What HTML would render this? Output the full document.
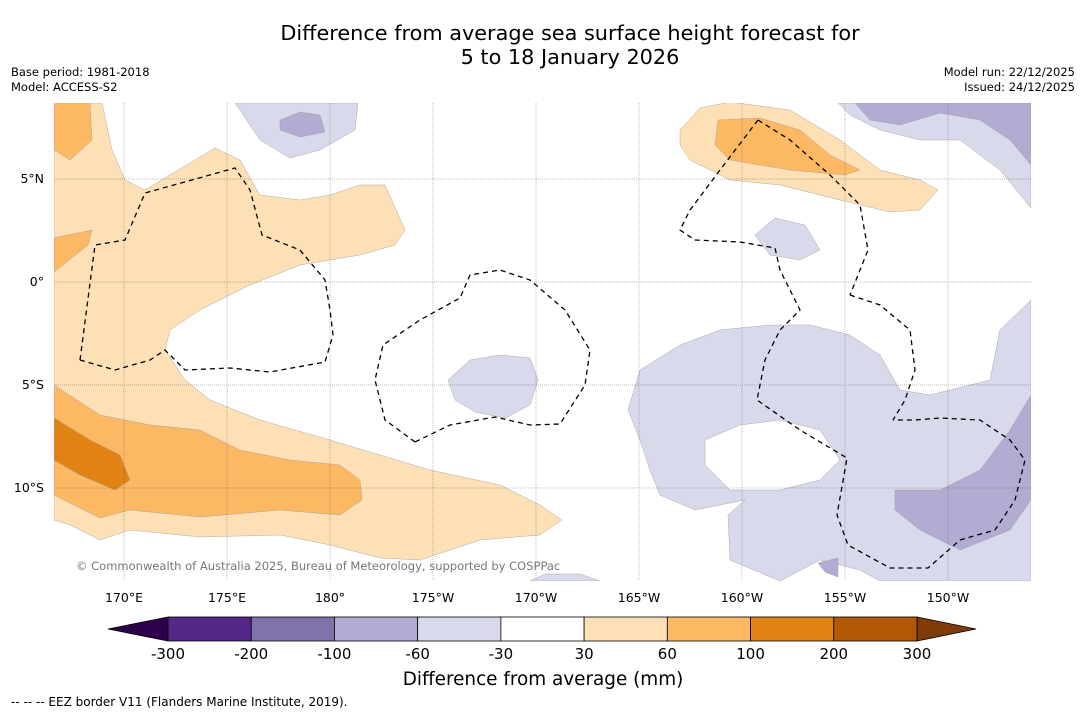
<!DOCTYPE html>
<html><head><meta charset="utf-8">
<style>
body{margin:0;background:#fff;font-family:"DejaVu Sans",sans-serif;}
#wrap{position:relative;width:1085px;height:713px;overflow:hidden;background:#fff}
.t{position:absolute;white-space:nowrap;color:#000}
</style></head><body>
<div id="wrap">
<div class="t" style="left:0;width:1140px;top:21px;text-align:center;font-size:20.8px;line-height:24px">Difference from average sea surface height forecast for<br>5 to 18 January 2026</div>
<div class="t" style="left:11px;top:65px;font-size:11.5px;line-height:15px">Base period: 1981-2018<br>Model: ACCESS-S2</div>
<div class="t" style="right:10px;top:65px;font-size:11.5px;line-height:15px;text-align:right">Model run: 22/12/2025<br>Issued: 24/12/2025</div>
<svg id="map" width="1085" height="713" style="position:absolute;left:0;top:0" font-family="DejaVu Sans">
<defs><clipPath id="mc"><rect x="54" y="103" width="977" height="478"/></clipPath></defs>
<g clip-path="url(#mc)" stroke="#999" stroke-width="0.4">
<rect x="54" y="103" width="977" height="478" fill="#fff" stroke="none"/>
<polygon fill="#fee0b6" points="54,103 102,103 112,150 125,180 145,190 215,148 240,160 260,195 300,200 330,195 360,185 385,185 405,230 395,245 360,255 300,265 250,285 200,310 170,330 165,350 185,380 210,400 260,420 330,440 430,470 500,485 540,505 562,520 540,535 480,540 420,560 380,558 330,545 280,535 200,537 130,530 100,540 70,525 54,520"/>
<polygon fill="#fdb863" points="54,103 90,103 92,140 70,160 54,150"/>
<polygon fill="#fdb863" points="54,238 92,230 88,245 54,272"/>
<polygon fill="#fdb863" points="54,385 100,415 150,425 200,430 240,450 290,460 340,465 360,480 362,500 340,515 280,510 200,517 130,510 100,518 54,495"/>
<polygon fill="#e08214" points="54,418 90,440 120,455 130,480 115,490 80,475 54,460"/>
<polygon fill="#fee0b6" points="680,130 700,108 730,102 790,110 840,140 880,170 920,180 938,190 920,210 890,212 840,200 780,185 730,180 690,160 680,145"/>
<polygon fill="#fdb863" points="718,120 760,118 800,130 830,155 860,170 845,175 790,170 730,160 715,145"/>
<polygon fill="#d8daeb" points="235,103 358,103 355,130 320,150 290,158 260,140"/>
<polygon fill="#b2abd2" points="280,120 300,112 320,115 325,132 300,137 280,130"/>
<polygon fill="#d8daeb" points="838,103 1031,103 1031,208 1000,170 960,140 920,140 880,130 850,115"/>
<polygon fill="#b2abd2" points="855,103 1031,103 1031,165 1010,140 980,120 940,113 900,125 870,120"/>
<polygon fill="#d8daeb" points="755,235 775,218 805,225 820,250 800,260 770,255"/>
<polygon fill="#d8daeb" points="448,380 470,360 500,355 530,358 538,380 530,405 505,418 475,412 455,400"/>
<polygon fill="#d8daeb" points="628,410 640,370 680,345 720,330 770,325 810,325 850,335 880,355 900,390 930,395 990,380 1000,330 1031,300 1031,581 880,581 860,570 820,560 780,581 730,560 728,515 745,500 720,505 695,510 660,495 650,470 640,440"/>
<polygon fill="#fff" points="705,440 740,425 780,420 820,430 840,460 820,480 780,490 730,490 705,465"/>
<polygon fill="#b2abd2" points="895,490 940,490 980,470 1010,430 1031,395 1031,500 1010,530 960,550 920,530 895,510"/>
<polygon fill="#b2abd2" points="818,563 838,558 838,577 825,572"/>
<polygon fill="#d8daeb" points="530,581 545,574 580,574 600,581"/>
</g>
<g id="grid" clip-path="url(#mc)"></g>
<g clip-path="url(#mc)" fill="none" stroke="#000" stroke-width="1.3" stroke-dasharray="5,4">
<polyline points="80,360 95,245 125,240 145,193 235,168 250,190 262,235 300,250 325,280 330,310 333,335 325,362 270,372 230,368 185,370 165,350 150,360 115,370 80,360"/>
<polyline points="415,442 385,420 375,380 383,345 420,320 460,298 470,275 500,270 530,280 565,310 590,350 585,385 560,424 530,425 495,417 450,425 415,442"/>
<polyline points="758,120 790,140 830,175 860,205 868,250 850,295"/>
<polyline points="850,295 880,305 910,330 915,370 905,400 893,420"/>
<polyline points="758,120 720,170 690,210 680,230 695,240 740,242 775,248 780,270 800,310 780,330 765,360 757,400 800,430 847,458 837,515 848,545 890,568 928,568 960,540 995,530 1015,500 1025,460 1010,440 980,420 940,418 915,420 893,420"/>
</g>
<text x="76" y="570" font-size="11.5" fill="#777">© Commonwealth of Australia 2025, Bureau of Meteorology, supported by COSPPac</text>
<g id="cbar"></g>
<text x="543" y="685" font-size="18.4" text-anchor="middle">Difference from average (mm)</text>
<text x="11" y="706" font-size="12">-- -- -- EEZ border V11 (Flanders Marine Institute, 2019).</text>
</svg>
</div>
<script>
const lonLabels=["170°E","175°E","180°","175°W","170°W","165°W","160°W","155°W","150°W"];
const latLabels=["5°N","0°","5°S","10°S"];
const cbTicks=[-300,-200,-100,-60,-30,30,60,100,200,300];
const cbColors=["#542788","#8073ac","#b2abd2","#d8daeb","#ffffff","#fee0b6","#fdb863","#e08214","#b35806"];
const cbUnder="#2d004b", cbOver="#7f3b08";
const NS="http://www.w3.org/2000/svg";
const svg=document.getElementById('map');
function mk(t,a,p){const e=document.createElementNS(NS,t);for(const k in a)e.setAttribute(k,a[k]);p.appendChild(e);return e;}
const lonX=i=>124+i*103.0, latY=i=>179+i*103;
const grid=document.getElementById('grid');
lonLabels.forEach((l,i)=>{
 const ln=mk('line',{x1:lonX(i),x2:lonX(i),y1:103,y2:581,stroke:'#555','stroke-width':0.4,'stroke-dasharray':'1,1'},grid);
 
 
 const t=mk('text',{x:lonX(i),y:602,'font-size':12.5,'text-anchor':'middle'},svg);
 t.textContent=l;
 
 
});
latLabels.forEach((l,i)=>{
 const ln=mk('line',{x1:54,x2:1031,y1:latY(i),y2:latY(i),stroke:'#555','stroke-width':0.4,'stroke-dasharray':'1,1'},grid);
 
 
 const t=mk('text',{x:44,y:latY(i)+4,'font-size':12.5,'text-anchor':'end'},svg);
 t.textContent=l;
 
 
});
const cb=document.getElementById('cbar');
const x0=168,x1=917,y0=617,y1=641,w=(x1-x0)/cbColors.length;
const tl=mk('polygon',{points:`${x0},${y0} 108,${(y0+y1)/2} ${x0},${y1}`,fill:cbUnder,stroke:'#000','stroke-width':0.8},cb);


const tr=mk('polygon',{points:`${x1},${y0} 976,${(y0+y1)/2} ${x1},${y1}`,fill:cbOver,stroke:'#000','stroke-width':0.8},cb);


cbColors.forEach((c,i)=>{
 const r=mk('rect',{x:x0+i*w,y:y0,width:w,height:y1-y0,fill:c,stroke:'#000','stroke-width':0.8},cb);
 
 
});
cbTicks.forEach((v,i)=>{
 const t=mk('text',{x:x0+i*w,y:659,'font-size':15,'text-anchor':'middle'},cb);
 t.textContent=v;
 
 
});
</script>
</body></html>
